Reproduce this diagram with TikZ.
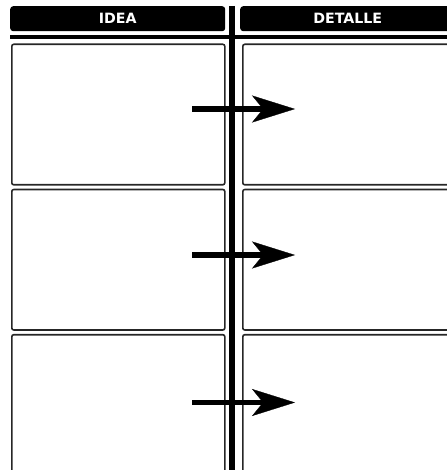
\documentclass[tikz,border=0pt]{standalone}
\usepackage{fontspec}
\setmainfont{DejaVu Sans}
\usetikzlibrary{arrows.meta}
\begin{document}
\begin{tikzpicture}[x=1pt,y=-1pt,
  header/.style={fill=black, rounded corners=3pt, inner sep=0pt, anchor=north west,
    minimum width=215pt, minimum height=25pt, text=white, font=\fontsize{14.2}{15}\selectfont\bfseries},
  cell/.style={draw=black!85, line width=1.6pt, rounded corners=2pt, inner sep=0pt, anchor=north west,
    minimum width=213pt, minimum height=140.5pt},
  rule/.style={line width=#1},
  bigarrow/.style={line width=5.5pt, -{Stealth[length=43pt,width=27pt,inset=11pt,line width=0.3pt]}}
]
\useasboundingbox (0,0) rectangle (446,470);
% headers
\node[header] (h1) at (10,6) {IDEA};
\node[header] (h2) at (240,6) {DETALLE};
% cells
\foreach \i/\y in {1/43.5, 2/188.7, 3/333.9} {
  \node[cell] (L\i) at (11,\y) {};
  \node[cell] (R\i) at (242,\y) {};
}
% separating rules
\coordinate (ht) at (10,37);
\coordinate (hb) at (460,37);
\draw[rule=3.5pt] (ht) -- (hb);
\coordinate (vt) at (232,6);
\coordinate (vb) at (232,475);
\draw[rule=5.5pt] (vt) -- (vb);
% arrows
\foreach \i/\y in {1/109, 2/255, 3/402.5} {
  \coordinate (as\i) at (192,\y);
  \coordinate (ae\i) at (295,\y);
  \draw[bigarrow] (as\i) -- (ae\i);
}
\end{tikzpicture}
\end{document}
